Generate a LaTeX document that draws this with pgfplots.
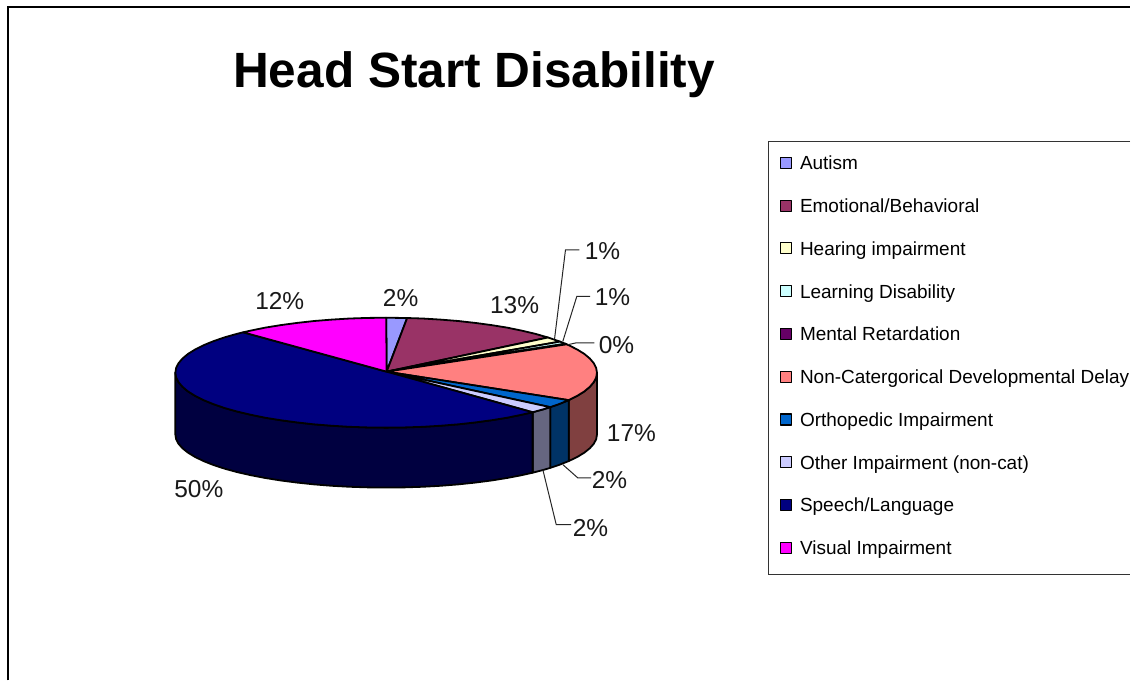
\documentclass[border=0pt]{standalone}
\usepackage{fontspec}
\setmainfont{Liberation Sans}
\usepackage{pgfplots}
\pgfplotsset{compat=1.18}

\definecolor{autism}{HTML}{9999FF}
\definecolor{emotional}{HTML}{993366}
\definecolor{hearing}{HTML}{FFFFCC}
\definecolor{learning}{HTML}{CCFFFF}
\definecolor{mental}{HTML}{660066}
\definecolor{noncat}{HTML}{FF8080}
\definecolor{ortho}{HTML}{0066CC}
\definecolor{other}{HTML}{CCCCFF}
\definecolor{speech}{HTML}{000080}
\definecolor{visual}{HTML}{FF00FF}
\definecolor{noncatside}{HTML}{804040}
\definecolor{orthoside}{HTML}{003366}
\definecolor{otherside}{HTML}{666680}
\definecolor{speechside}{HTML}{000040}

\tikzset{
  slice/.style = {draw=black, line width=1.8pt, line join=round},
  leader/.style = {black!85, line width=1pt},
  pct/.style = {font=\fontsize{24.5}{24.5}\selectfont, text=black!90, inner sep=0pt},
}

\begin{document}
\begin{tikzpicture}
\begin{axis}[
    scale only axis,
    width=1131pt,
    height=681pt,
    xmin=0, xmax=1131,
    ymin=0, ymax=681,
    y dir=reverse,
    hide axis,
    clip=false,
    legend cell align=left,
    legend image code/.code={
      \draw[#1, draw=black, line width=1.2pt] (0pt,-3.5pt) rectangle (11pt,7.5pt);
    },
    legend style={
      at={(axis cs:780.5,156)}, anchor=north west,
      draw=none, fill=none, inner sep=0pt, outer sep=0pt,
      font=\fontsize{19}{19}\selectfont,
      nodes={inner xsep=0pt, inner ysep=0pt, text height=14pt, text depth=4pt},
      row sep=24.8pt,
      /tikz/every odd column/.append style={column sep=8pt},
    },
]
% page and frames
\addplot[draw=none, fill=white, forget plot] coordinates {(0,0) (1131,0) (1131,681) (0,681)};
\addplot[black, line width=2pt, forget plot] coordinates {(8,681) (8,7) (1131,7)};
\addplot[black!80, line width=1pt, forget plot] coordinates {(1131,142) (769.5,142) (769.5,575) (1131,575)};

% sides of the pie
\addplot[slice, fill=noncatside, forget plot] coordinates {
  (597.5,373) (596.7,377.8) (594.3,382.5) (590.3,387.2) (584.8,391.8) (577.7,396.2) (569.2,400.5)
  (569.2,461.5) (577.7,457.4) (584.8,453.1) (590.3,448.7) (594.3,444.2) (596.7,439.6) (597.5,435)
} -- cycle;
\addplot[slice, fill=orthoside, forget plot] coordinates {
  (569.2,400.5) (559.4,404.5) (550.7,407.5)
  (550.7,468.3) (559.4,465.4) (569.2,461.5)
} -- cycle;
\addplot[slice, fill=otherside, forget plot] coordinates {
  (550.7,407.5) (543.3,409.8) (533.1,412.6)
  (533.1,473.1) (543.3,470.5) (550.7,468.3)
} -- cycle;
\addplot[slice, fill=speechside, forget plot] coordinates {
  (533.1,412.6) (522.1,415.1) (507.5,418.1) (492.0,420.6) (475.7,422.8) (458.7,424.7) (441.1,426.1)
  (423.1,427.2) (404.9,427.8) (386.5,428.0) (368.1,427.8) (349.9,427.2) (331.9,426.1) (314.3,424.7)
  (297.3,422.8) (281.0,420.6) (265.5,418.1) (250.9,415.1) (237.3,411.9) (224.9,408.4) (213.6,404.5)
  (203.8,400.5) (195.3,396.2) (188.2,391.8) (182.7,387.2) (178.7,382.5) (176.3,377.8) (175.5,373)
  (175.5,435) (176.3,439.6) (178.7,444.2) (182.7,448.7) (188.2,453.1) (195.3,457.4) (203.8,461.5)
  (213.6,465.4) (224.9,469.1) (237.3,472.5) (250.9,475.6) (265.5,478.4) (281.0,480.9) (297.3,483.0)
  (314.3,484.8) (331.9,486.2) (349.9,487.2) (368.1,487.8) (386.5,488) (404.9,487.8) (423.1,487.2)
  (441.1,486.2) (458.7,484.8) (475.7,483.0) (492.0,480.9) (507.5,478.4) (522.1,475.6) (533.1,473.1)
} -- cycle;

% top faces, legend order
\addplot[slice, fill=autism] coordinates {
  (387,372) (386.5,318) (407.5,318.3)
} -- cycle;
\addlegendentry{Autism}
\addplot[slice, fill=emotional] coordinates {
  (387,372) (407.5,318.3) (423.1,318.8) (441.1,319.9) (458.7,321.3) (475.7,323.2) (492.0,325.4)
  (507.5,327.9) (522.1,330.9) (535.7,334.1) (548.5,337.8)
} -- cycle;
\addlegendentry{Emotional/Behavioral}
\addplot[slice, fill=hearing] coordinates {
  (387,372) (548.5,337.8) (560.5,341.9)
} -- cycle;
\addlegendentry{Hearing impairment}
\addplot[slice, fill=learning] coordinates {
  (387,372) (560.5,341.9) (566.0,344.1)
} -- cycle;
\addlegendentry{Learning Disability}
\addplot[slice, fill=mental] coordinates {
  (387,372) (566.0,344.1) (567.2,344.6)
} -- cycle;
\addlegendentry{Mental Retardation}
\addplot[slice, fill=noncat] coordinates {
  (387,372) (567.2,344.6) (569.2,345.5) (577.7,349.8) (584.8,354.2) (590.3,358.8) (594.3,363.5)
  (596.7,368.2) (597.5,373) (596.7,377.8) (594.3,382.5) (590.3,387.2) (584.8,391.8) (577.7,396.2)
  (569.2,400.5)
} -- cycle;
\addlegendentry{Non-Catergorical Developmental Delay}
\addplot[slice, fill=ortho] coordinates {
  (387,372) (569.2,400.5) (559.4,404.5) (550.7,407.5)
} -- cycle;
\addlegendentry{Orthopedic Impairment}
\addplot[slice, fill=other] coordinates {
  (387,372) (550.7,407.5) (543.3,409.8) (533.1,412.6)
} -- cycle;
\addlegendentry{Other Impairment (non-cat)}
\addplot[slice, fill=speech] coordinates {
  (387,372) (533.1,412.6) (522.1,415.1) (507.5,418.1) (492.0,420.6) (475.7,422.8) (458.7,424.7)
  (441.1,426.1) (423.1,427.2) (404.9,427.8) (386.5,428.0) (368.1,427.8) (349.9,427.2) (331.9,426.1)
  (314.3,424.7) (297.3,422.8) (281.0,420.6) (265.5,418.1) (250.9,415.1) (237.3,411.9) (224.9,408.4)
  (213.6,404.5) (203.8,400.5) (195.3,396.2) (188.2,391.8) (182.7,387.2) (178.7,382.5) (176.3,377.8)
  (175.5,373) (176.3,368.2) (178.7,363.5) (182.7,358.8) (188.2,354.2) (195.3,349.8) (203.8,345.5)
  (213.6,341.5) (224.9,337.6) (237.3,334.1) (243.4,332.6)
} -- cycle;
\addlegendentry{Speech/Language}
\addplot[slice, fill=visual] coordinates {
  (387,372) (243.4,332.6) (250.9,330.9) (265.5,327.9) (281.0,325.4) (297.3,323.2) (314.3,321.3)
  (331.9,319.9) (349.9,318.8) (368.1,318.2) (386.5,318)
} -- cycle;
\addlegendentry{Visual Impairment}

% leader lines
\addplot[leader, forget plot] coordinates {(555,339.5) (566,250) (580,250)};
\addplot[leader, forget plot] coordinates {(563.3,341.7) (577.3,296.7) (590.7,296.7)};
\addplot[leader, forget plot] coordinates {(568.3,345) (576,343.3) (595,343.3)};
\addplot[leader, forget plot] coordinates {(563.3,465) (578.3,478.3) (591.7,478.3)};
\addplot[leader, forget plot] coordinates {(543.3,470) (556.7,525) (571.7,525)};

% text
\node[font=\fontsize{49.6}{49.6}\selectfont\bfseries, inner sep=0pt] at (axis cs:474.5,75) {Head Start Disability};
\node[pct] at (axis cs:280,301) {12\%};
\node[pct] at (axis cs:401,298) {2\%};
\node[pct] at (axis cs:515,305) {13\%};
\node[pct] at (axis cs:603,251) {1\%};
\node[pct] at (axis cs:613,297) {1\%};
\node[pct] at (axis cs:617,345) {0\%};
\node[pct] at (axis cs:632,433) {17\%};
\node[pct] at (axis cs:610,480) {2\%};
\node[pct] at (axis cs:591,528) {2\%};
\node[pct] at (axis cs:199,490) {50\%};
\end{axis}
\end{tikzpicture}
\end{document}
